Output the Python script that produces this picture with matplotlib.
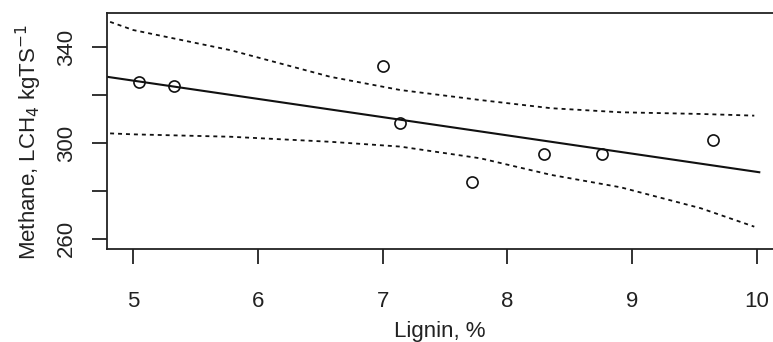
import numpy as np
from matplotlib import pyplot as plt

plt.rcParams['font.family'] = ['Liberation Sans', 'DejaVu Sans']

# Messpunkte
lignin = [5.05, 5.33, 7.0, 7.14, 7.72, 8.29, 8.76, 9.65]
methane = [325.6, 323.6, 332.2, 308.2, 283.9, 295.3, 295.4, 301.3]

# Regressionsgerade (Endpunkte)
fit_x = [4.79, 10.02]
fit_y = [327.6, 287.8]

# Konfidenzband
band_x = [4.815, 5.0, 5.78, 6.58, 7.14, 7.785, 8.35, 8.91, 9.55, 9.98]
band_upper = [350.5, 347.1, 338.7, 327.6, 322.1, 317.9, 314.5, 312.8, 312.1, 311.4]
band_lower = [304.0, 303.6, 302.6, 300.5, 298.5, 293.6, 286.7, 281.5, 272.8, 265.1]

x_ticks = [5, 6, 7, 8, 9, 10]
y_ticks = [260, 280, 300, 320, 340]
y_ticklabels = ['260', '', '300', '', '340']

fig = plt.figure(figsize=(7.73, 3.42), dpi=100)
ax = fig.add_axes([0.1384, 0.272, 0.8616, 0.69])

ax.plot(fit_x, fit_y, color='#111111', lw=1.5)
ax.plot(band_x, band_upper, color='#111111', lw=1.3, ls=(0, (2.2, 2.2)))
ax.plot(band_x, band_lower, color='#111111', lw=1.3, ls=(0, (2.2, 2.2)))
ax.plot(lignin, methane, 'o', mfc='none', mec='#111111', ms=8, mew=1.2)

ax.set_xlim(4.79, 10.13)
ax.set_ylim(255.8, 354.2)
ax.set_xticks(x_ticks)
ax.set_yticks(y_ticks)
ax.set_yticklabels(y_ticklabels, rotation=90, va='center')

ax.spines['right'].set_visible(False)
for s in ['left', 'top', 'bottom']:
    ax.spines[s].set_linewidth(1.3)
    ax.spines[s].set_color('#222222')
ax.tick_params(direction='out', length=10.5, width=1.3, color='#222222',
               labelsize=16, labelcolor='#222222')
ax.tick_params(axis='x', pad=19.5)
ax.tick_params(axis='y', pad=11)

ax.set_xlabel('Lignin, %', fontsize=16, color='#222222')
ax.set_ylabel('Methane, LCH$_4$ kgTS$^{-1}$', fontsize=16, color='#222222')
ax.xaxis.set_label_coords(0.5, -0.305)
ax.yaxis.set_label_coords(-0.094, 0.455)

plt.savefig('out.png', dpi=100)
